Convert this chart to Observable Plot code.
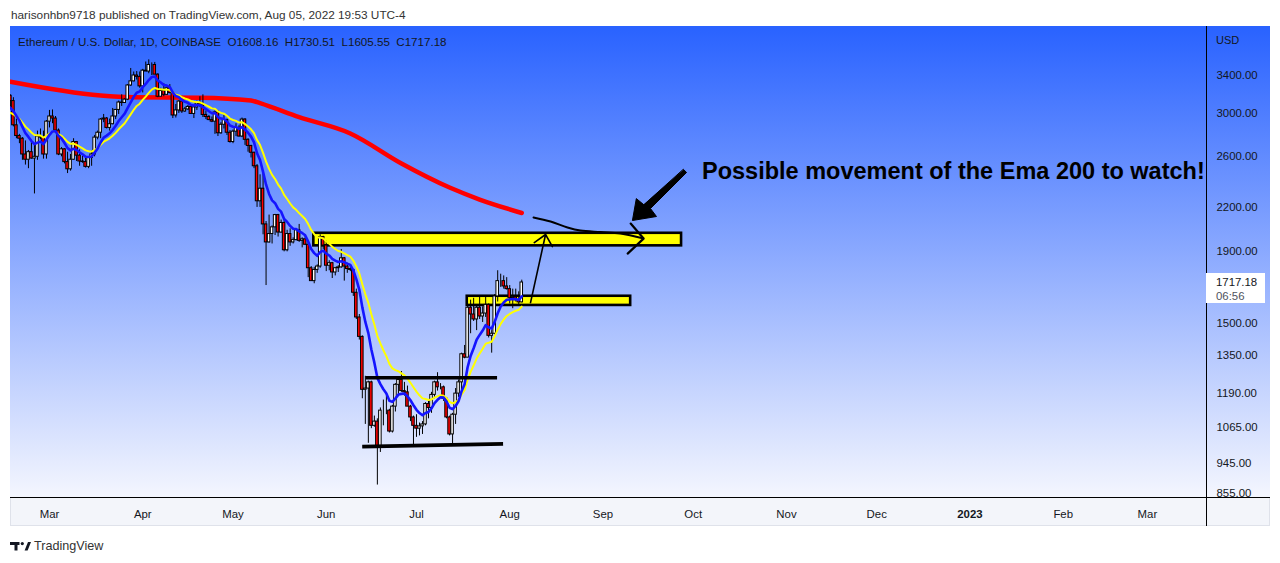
<!DOCTYPE html>
<html>
<head>
<meta charset="utf-8">
<script src="https://cdn.jsdelivr.net/npm/d3@7"></script>
<script src="https://cdn.jsdelivr.net/npm/@observablehq/plot@0.6"></script>
<style>
  html, body { margin: 0; padding: 0; background: #fff; }
  body { width: 1280px; height: 563px; position: relative; overflow: hidden; font-family: "Liberation Sans", Arial, sans-serif; }
  #hdr { position: absolute; left: 11px; top: 7px; line-height: 16px; font-size: 11.8px; color: #333; white-space: pre; }
  #frame { position: absolute; left: 10px; top: 26px; width: 1260px; height: 500px; box-sizing: border-box; border: 1px solid #dfe2ea; background: #f3f5fa; }
  #grad { position: absolute; left: 10px; top: 26px; width: 1260px; height: 471px; background: linear-gradient(to bottom, #2962ff 0%, #f4f6fe 100%); }
  #vline { position: absolute; left: 1206px; top: 26px; width: 1px; height: 500px; background: #000; }
  #hline { position: absolute; left: 10px; top: 497px; width: 1260px; height: 1px; background: #000; }
  #chart { position: absolute; left: 0; top: 26px; }
  #legend { position: absolute; left: 18px; top: 34px; line-height: 16px; font-size: 11.6px; color: #131722; white-space: pre; }
  #usd { position: absolute; left: 1216px; top: 32px; line-height: 16px; font-size: 11px; color: #131722; }
  #pbox { position: absolute; left: 1206px; width: 59px; height: 30px; background: #fff; font-size: 11.4px; line-height: 14px; color: #131722; box-sizing: border-box; padding: 2px 0 0 10px; }
  #pbox .t { color: #50535e; }
  #footer { position: absolute; left: 10px; top: 538px; height: 16px; display: flex; align-items: center; gap: 3px; font-size: 12.6px; color: #333; }
</style>
</head>
<body>
<div id="hdr"></div>
<div id="frame"></div>
<div id="grad"></div>
<div id="chart"></div>
<div id="vline"></div>
<div id="hline"></div>
<div id="legend"></div>
<div id="usd">USD</div>
<div id="pbox"></div>
<div id="footer">
  <svg width="21" height="9" viewBox="0 0 21 9"><path d="M0 0H9.5V3H7.5V8.5H4.5V3H0Z" fill="#131722"/><circle cx="12.3" cy="1.6" r="1.6" fill="#131722"/><path d="M14.6 8.5H17.6L21 0H18Z" fill="#131722"/></svg>
  <span>TradingView</span>
</div>
<script>
// ---------------- data ----------------
const headerText = "harisonhbn9718 published on TradingView.com, Aug 05, 2022 19:53 UTC-4";
const symbolText = "Ethereum / U.S. Dollar, 1D, COINBASE";
const firstDay = "2022-02-16";

const opens = [
  3180,3125,2885,2785,2760,2620,2575,2640,2585,2600,2780,2770,2620,
  2920,2970,2950,2835,2620,2665,2555,2495,2575,2730,2610,2560,2555,2515,2590,2620,2770,2815,2940,2950,2860,2895,2970,3035,3110,3105,3140,3290,3335,3400,3385,
  3280,3455,3445,3520,3520,3410,3170,3230,3190,3260,3210,2980,3030,3120,3020,3040,3065,2995,3060,3100,3080,2985,2965,2935,2920,3010,2810,2890,2935,2815,
  2730,2825,2860,2780,2940,2750,2695,2635,2520,2245,2340,2080,1960,2015,2060,2145,2025,2090,1910,2015,1960,1975,2040,1970,1980,1945,1800,1725,1790,1810,1995,
  1940,1815,1830,1775,1800,1805,1860,1810,1795,1790,1660,1530,1435,1205,1210,1235,1070,1085,995,1125,1125,1125,1050,1140,1225,1245,1200,1195,1140,1100,
  1070,1060,1068,1075,1150,1135,1185,1235,1215,1215,1170,1100,1040,1110,1190,1235,1355,1340,1580,1545,1520,1580,1535,1550,1595,1440,1450,1640,1725,1725,1695,
  1680,1630,1635,1620,1608.16
];
const highs = [
  3190,3160,2945,2800,2770,2740,2655,2745,2705,2830,2850,2830,2930,
  3030,3035,2970,2850,2680,2670,2640,2620,2760,2735,2660,2605,2590,2600,2650,2790,2830,2950,2990,2960,2945,3050,3040,3125,3190,3150,3300,3480,3440,3445,3440,
  3470,3555,3580,3545,3550,3420,3260,3310,3265,3300,3220,3090,3130,3140,3060,3080,3080,3065,3125,3170,3190,3025,2980,2965,3025,3030,2910,2980,2945,2835,
  2840,2900,2880,2955,2950,2760,2700,2640,2535,2450,2460,2100,2145,2070,2150,2150,2110,2110,2040,2050,1990,2050,2080,1990,2010,1960,1810,1805,1820,2010,2000,
  1970,1845,1835,1805,1815,1915,1865,1830,1820,1790,1680,1545,1440,1260,1240,1240,1105,1095,1135,1165,1190,1130,1145,1230,1250,1280,1235,1220,1145,1105,
  1110,1080,1085,1155,1165,1195,1240,1275,1230,1220,1175,1105,1115,1210,1245,1360,1395,1590,1620,1630,1590,1645,1585,1640,1600,1465,1650,1785,1765,1755,1745,
  1700,1680,1680,1665,1730.51
];
const lows = [
  3060,2870,2760,2715,2570,2530,2500,2580,2300,2570,2750,2580,2580,
  2860,2900,2810,2610,2600,2540,2460,2480,2570,2560,2520,2545,2505,2500,2520,2600,2750,2760,2910,2850,2830,2890,2940,2990,3070,3100,3130,3280,3330,3350,3260,
  3210,3445,3420,3400,3410,3160,3170,3170,3185,3200,2950,2955,3000,3000,3010,3030,2990,2950,3030,3060,2960,2940,2930,2910,2800,2780,2800,2850,2790,2720,
  2715,2780,2775,2770,2700,2640,2590,2500,2200,2200,2010,1700,1955,1950,2005,1995,2020,1900,1900,1935,1950,1970,1960,1925,1940,1745,1725,1710,1770,1800,1915,
  1780,1785,1740,1755,1775,1800,1725,1770,1780,1640,1520,1420,1170,1075,1010,1060,1065,880,980,1070,1110,1045,1045,1120,1180,1195,1180,1140,1085,1000,
  1030,1035,1040,1070,1095,1115,1170,1200,1205,1160,1095,1035,1005,1075,1175,1190,1335,1340,1450,1510,1465,1520,1505,1530,1430,1360,1445,1610,1690,1680,1675,
  1600,1575,1610,1590,1605.55
];
const closes = [
  3125,2885,2785,2760,2620,2575,2640,2585,2600,2780,2770,2620,2920,
  2970,2950,2835,2620,2665,2555,2495,2575,2730,2610,2560,2555,2515,2590,2620,2770,2815,2940,2950,2860,2895,2970,3035,3110,3105,3140,3290,3335,3400,3385,3280,
  3455,3445,3520,3520,3410,3170,3230,3190,3260,3210,2980,3030,3120,3020,3040,3065,2995,3060,3100,3080,2985,2965,2935,2920,3010,2810,2890,2935,2815,2730,
  2825,2860,2780,2940,2750,2695,2635,2520,2245,2340,2080,1960,2015,2060,2145,2025,2090,1910,2015,1960,1975,2040,1970,1980,1945,1800,1725,1790,1810,1995,1940,
  1815,1830,1775,1800,1805,1860,1810,1795,1790,1660,1530,1435,1205,1210,1235,1070,1085,995,1125,1125,1125,1050,1140,1225,1245,1200,1195,1140,1100,1070,
  1060,1068,1075,1150,1135,1185,1235,1215,1215,1170,1100,1040,1110,1190,1235,1355,1340,1580,1545,1520,1580,1535,1550,1595,1440,1450,1640,1725,1725,1695,1680,
  1630,1635,1620,1608,1717.18
];

// EMA periods and the values read at the left edge of the chart
const fastPeriod = 9, fastStart = 3040;
const slowPeriod = 17, slowStart = 2990;

// EMA 200
const ema200Dates = ["2022-02-16","2022-03-18","2022-03-29","2022-04-20","2022-05-07","2022-05-10","2022-05-23","2022-06-09","2022-06-26","2022-07-12","2022-07-22","2022-08-05"];
const ema200Values = [3330,3183,3165,3160,3131,3103,2963,2808,2543,2349,2258,2160];

// price-axis ticks and time-axis ticks
const yTicks = [3400,3000,2600,2200,1900,1500,1350,1190,1065,945,855];
const monthDates = ["2022-03-01","2022-04-01","2022-05-01","2022-06-01","2022-07-01","2022-08-01","2022-09-01","2022-10-01","2022-11-01","2022-12-01","2023-01-01","2023-02-01","2023-03-01"];
const monthLabels = ["Mar","Apr","May","Jun","Jul","Aug","Sep","Oct","Nov","Dec","2023","Feb","Mar"];

// drawn zones (yellow boxes)
const zoneStart = ["2022-05-27T21:00Z","2022-07-17T21:00Z"];
const zoneEnd   = ["2022-09-27T03:00Z","2022-09-10T05:00Z"];
const zoneTop   = [2020,1641];
const zoneBottom= [1938,1592];

// drawn horizontal levels (black)
const levelStart = ["2022-06-14T01:00Z","2022-06-12T23:00Z"];
const levelEnd   = ["2022-07-27T19:00Z","2022-07-29T19:00Z"];
const levelFrom  = [1254,999];
const levelTo    = [1254,1008];

// hand-drawn projected path of the EMA 200
const pathDates  = ["2022-08-08T22:00Z","2022-08-14T14:00Z","2022-08-20T05:00Z","2022-08-24T12:00Z","2022-08-31T05:00Z","2022-09-06T19:00Z","2022-09-14T12:00Z"];
const pathPrices = [2128,2100,2059,2038,2028,2019,1985];
const pathHeadDates  = ["2022-09-10T05:00Z","2022-09-14T12:00Z","2022-09-09T05:00Z"];
const pathHeadPrices = [2086,1985,1889];

// thin arrow up from the small box
const upArrowDates  = ["2022-08-07T22:00Z","2022-08-12T22:00Z"];
const upArrowPrices = [1607,2012];

// big pointer arrow
const pointerDates  = ["2022-09-27T19:00Z","2022-09-28T19:00Z","2022-09-16T19:00Z","2022-09-18T19:00Z","2022-09-10T19:00Z","2022-09-12T02:00Z","2022-09-14T12:00Z"];
const pointerPrices = [2493,2469,2192,2135,2107,2265,2221];

// call-out text
const calloutText = "Possible movement of the Ema 200 to watch!";
const calloutDate = "2022-10-03T22:00Z";
const calloutPrice = 2414;

const lastTimer = "06:56";

// ---------------- build ----------------
const DAY = 864e5;
const t0 = Date.parse(firstDay + "T00:00Z");
const candles = closes.map((c, i) => ({date: new Date(t0 + i * DAY), open: opens[i], high: highs[i], low: lows[i], close: c}));
function ema(values, period, seed) { const a = 2 / (period + 1); let e = seed; return values.map(v => (e = e + a * (v - e))); }
const fast = ema(closes, fastPeriod, fastStart).map((v, i) => ({date: candles[i].date, v}));
const slow = ema(closes, slowPeriod, slowStart).map((v, i) => ({date: candles[i].date, v}));
const ema200 = ema200Dates.map((d, i) => ({date: new Date(d + "T00:00Z"), v: ema200Values[i]}));
const zones = zoneStart.map((d, i) => ({x1: new Date(d), x2: new Date(zoneEnd[i]), y1: zoneTop[i], y2: zoneBottom[i]}));
const levels = levelStart.map((d, i) => ({x1: new Date(d), x2: new Date(levelEnd[i]), y1: levelFrom[i], y2: levelTo[i]}));
const pathPts = pathDates.map((d, i) => ({x: new Date(d), y: pathPrices[i]}));
const headPts = pathHeadDates.map((d, i) => ({x: new Date(d), y: pathHeadPrices[i]}));
const upArrow = [{x1: new Date(upArrowDates[0]), y1: upArrowPrices[0], x2: new Date(upArrowDates[1]), y2: upArrowPrices[1]}];
const pointer = pointerDates.map((d, i) => ({x: new Date(d), y: pointerPrices[i]}));
const months = monthDates.map((d, i) => ({date: new Date(d + "T00:00Z"), label: monthLabels[i]}));

const FONT = "'Liberation Sans', Arial, sans-serif";
const chart = Plot.plot({
  width: 1280, height: 500,
  marginLeft: 10, marginRight: 74, marginTop: 0, marginBottom: 29,
  style: {background: "transparent", fontFamily: FONT, fontSize: "11.4px", color: "#131722", overflow: "visible"},
  x: {type: "utc", domain: [new Date("2022-02-16T00:50Z"), new Date("2023-03-20T15:20Z")], axis: null},
  y: {type: "log", domain: [844.6, 3997], axis: null},
  marks: [
    Plot.rect(zones, {x1: "x1", x2: "x2", y1: "y1", y2: "y2", fill: "#ffff00", stroke: "#000", strokeWidth: 2.6}),
    Plot.line(ema200, {x: "date", y: "v", stroke: "#ff0000", strokeWidth: 4.5, curve: "monotone-x", clip: true}),
    Plot.ruleX(candles, {x: "date", y1: "low", y2: "high", stroke: "#000", strokeWidth: 1, clip: true}),
    Plot.rect(candles, {
      x1: d => new Date(+d.date - 0.42 * DAY), x2: d => new Date(+d.date + 0.42 * DAY),
      y1: "open", y2: "close",
      fill: d => d.close >= d.open ? "#ffffff" : "#ff0000", stroke: "#000", strokeWidth: 1, clip: true
    }),
    Plot.line(slow, {x: "date", y: "v", stroke: "#ffff00", strokeWidth: 2, clip: true}),
    Plot.line(fast, {x: "date", y: "v", stroke: "#1414ff", strokeWidth: 2.6, clip: true}),
    Plot.link(levels, {x1: "x1", x2: "x2", y1: "y1", y2: "y2", stroke: "#000", strokeWidth: 3.6}),
    Plot.line(pathPts, {x: "x", y: "y", stroke: "#000", strokeWidth: 2, curve: "catmull-rom"}),
    Plot.line(headPts, {x: "x", y: "y", stroke: "#000", strokeWidth: 2.2, strokeLinejoin: "miter"}),
    Plot.arrow(upArrow, {x1: "x1", y1: "y1", x2: "x2", y2: "y2", stroke: "#000", strokeWidth: 1.6, headLength: 13, headAngle: 84}),
    Plot.line(pointer, {x: "x", y: "y", fill: "#000", stroke: "#000", strokeWidth: 1, curve: "linear-closed"}),
    Plot.text([calloutText], {x: () => new Date(calloutDate), y: () => calloutPrice, text: d => d, textAnchor: "start", lineAnchor: "bottom", fontSize: 23.5, fontWeight: "bold", fill: "#000"}),
    Plot.text(yTicks, {y: d => d, text: d => d.toFixed(2), frameAnchor: "right", dx: 10, textAnchor: "start", lineAnchor: "middle", fill: "#131722"}),
    Plot.text(months.filter(m => m.label !== "2023"), {x: "date", text: "label", frameAnchor: "bottom", dy: 17, lineAnchor: "middle", fill: "#131722"}),
    Plot.text(months.filter(m => m.label === "2023"), {x: "date", text: "label", frameAnchor: "bottom", dy: 17, lineAnchor: "middle", fill: "#131722", fontWeight: "bold"})
  ]
});
document.getElementById("chart").appendChild(chart);

const last = candles[candles.length - 1];
document.getElementById("hdr").textContent = headerText;
document.getElementById("legend").textContent =
  `${symbolText}  O${last.open.toFixed(2)}  H${last.high.toFixed(2)}  L${last.low.toFixed(2)}  C${last.close.toFixed(2)}`;
const py = chart.scale("y").apply(last.close) + 26;
const pbox = document.getElementById("pbox");
pbox.style.top = (py - 8.5) + "px";
pbox.innerHTML = `<div>${last.close.toFixed(2)}</div><div class="t">${lastTimer}</div>`;
</script>
</body>
</html>
